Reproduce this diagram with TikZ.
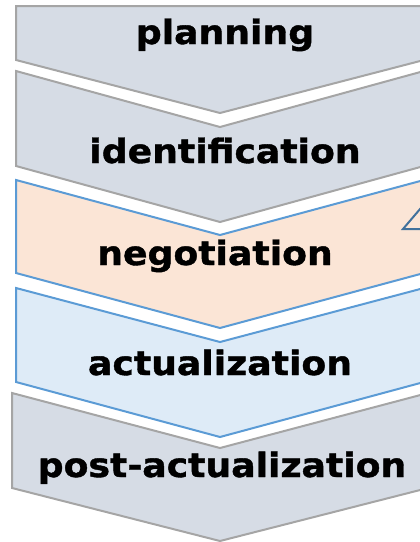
\documentclass[tikz,border=0pt]{standalone}
\usepackage{fontspec}
\newfontfamily\stagefont[FakeStretch=1.08,BoldFeatures={FakeBold=1.2}]{DejaVu Sans}
\definecolor{grayfill}{HTML}{D6DCE5}
\definecolor{grayline}{HTML}{A5A5A5}
\definecolor{peachfill}{HTML}{FBE5D6}
\definecolor{bluefill}{HTML}{DEEBF7}
\definecolor{blueline}{HTML}{5B9BD5}
\definecolor{arrowline}{HTML}{41719C}
\tikzset{
  grayshape/.style={draw=grayline,fill=grayfill,line width=2pt},
  peachshape/.style={draw=blueline,fill=peachfill,line width=2pt},
  blueshape/.style={draw=blueline,fill=bluefill,line width=2pt},
  stage/.style={anchor=base,inner sep=0pt,font=\stagefont\bfseries\fontsize{33.5}{36}\selectfont}
}
\begin{document}
\begin{tikzpicture}[x=1pt,y=-1pt]
        \useasboundingbox (0,0) rectangle (420,542);
        \clip (0,0) rectangle (420,542);
        % planning
        \draw[grayshape] (16,6) -- (424,6) -- (424,60) -- (220,113) -- (16,60) -- cycle;
        \node[stage] (planning) at (225,44) {planning};
        % identification
        \draw[grayshape] (16,71) -- (220,127) -- (424,71) -- (424,166) -- (220,222) -- (16,166) -- cycle;
        \node[stage] (ident) at (225,163) {identification};
        % negotiation
        \draw[peachshape] (16,180) -- (220,235) -- (424,180) -- (424,273) -- (220,328) -- (16,273) -- cycle;
        \node[stage] (negot) at (215,265) {negotiation};
        \draw[draw=arrowline,line width=2pt] (403,229) -- (432,195) -- (432,229) -- cycle;
        % actualization
        \draw[blueshape] (16,288) -- (220,342) -- (424,288) -- (424,382) -- (220,437) -- (16,382) -- cycle;
        \node[stage] (actual) at (220,375) {actualization};
        % post-actualization
        \draw[grayshape] (12,393) -- (220,448) -- (428,393) -- (428,488) -- (220,541) -- (12,488) -- cycle;
        \node[stage] (postact) at (222,477) {post-actualization};
    \end{tikzpicture}
\end{document}
